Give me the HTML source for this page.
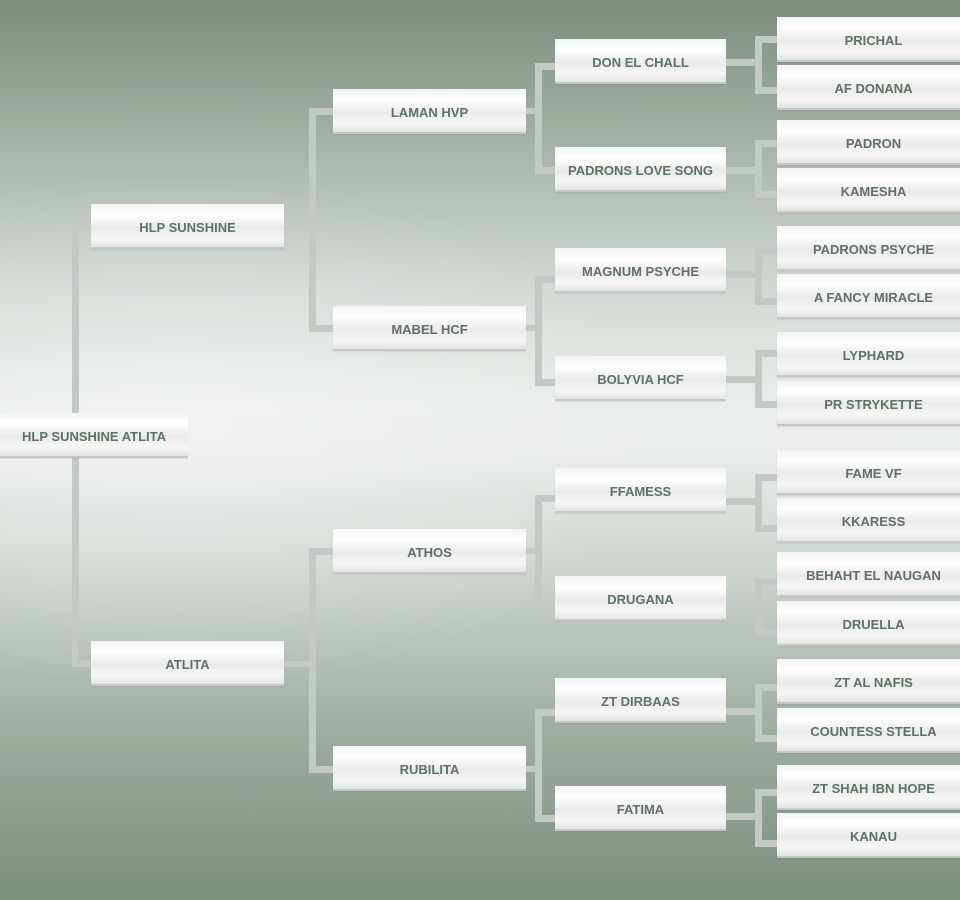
<!DOCTYPE html>
<html><head><meta charset="utf-8"><style>
html,body{margin:0;padding:0}
body{width:960px;height:900px;position:relative;overflow:hidden;font-family:"Liberation Sans",sans-serif;
background:linear-gradient(180deg,#7a8d7e 0%,#a3b0a5 15%,#cdd4ce 30%,#eaeeea 45%,#e9ece9 50%,#c9d1ca 65%,#a2afa4 80%,#7a8e7f 100%);}
.ov{position:absolute;left:0;top:0;width:960px;height:900px;background:radial-gradient(ellipse 480px 260px at 180px 430px,rgba(255,255,255,0.35),rgba(255,255,255,0) 100%);}
.b{position:absolute;height:45px;line-height:47px;text-align:center;font-weight:bold;font-size:13px;color:#5f7263;box-sizing:border-box;
background:linear-gradient(180deg,#f2f3f2 0%,#ffffff 25%,#eaeaea 55%,#f6f6f6 80%,#e3e4e3 100%);border-bottom:2px solid #c4c9c5;box-shadow:0 1px 1px rgba(0,0,0,0.08);}
.l{position:absolute;background:#c4c9c5;}
.g0{left:0;width:188px}.g1{left:91px;width:193px}.g2{left:333px;width:193px}.g3{left:555px;width:171px}.g4{left:777px;width:183px;padding-left:10px}
</style></head><body><div class="ov"></div>
<div class="l" style="left:72px;top:223px;width:7px;height:444px"></div>
<div class="l" style="left:72px;top:223px;width:20px;height:7px"></div>
<div class="l" style="left:72px;top:660px;width:20px;height:7px"></div>
<div class="l" style="left:284px;top:223px;width:28px;height:6px"></div>
<div class="l" style="left:309px;top:108px;width:7px;height:224px"></div>
<div class="l" style="left:309px;top:108px;width:24px;height:7px"></div>
<div class="l" style="left:309px;top:325px;width:24px;height:7px"></div>
<div class="l" style="left:284px;top:661px;width:28px;height:6px"></div>
<div class="l" style="left:309px;top:548px;width:7px;height:224px"></div>
<div class="l" style="left:309px;top:548px;width:24px;height:7px"></div>
<div class="l" style="left:309px;top:766px;width:24px;height:7px"></div>
<div class="l" style="left:526px;top:108px;width:12px;height:6px"></div>
<div class="l" style="left:535px;top:63px;width:7px;height:111px"></div>
<div class="l" style="left:535px;top:63px;width:20px;height:7px"></div>
<div class="l" style="left:535px;top:167px;width:20px;height:7px"></div>
<div class="l" style="left:526px;top:325px;width:12px;height:6px"></div>
<div class="l" style="left:535px;top:276px;width:7px;height:110px"></div>
<div class="l" style="left:535px;top:276px;width:20px;height:7px"></div>
<div class="l" style="left:535px;top:379px;width:20px;height:7px"></div>
<div class="l" style="left:526px;top:548px;width:12px;height:6px"></div>
<div class="l" style="left:535px;top:495px;width:7px;height:112px"></div>
<div class="l" style="left:535px;top:495px;width:20px;height:7px"></div>
<div class="l" style="left:535px;top:600px;width:20px;height:7px"></div>
<div class="l" style="left:526px;top:766px;width:12px;height:6px"></div>
<div class="l" style="left:535px;top:709px;width:7px;height:113px"></div>
<div class="l" style="left:535px;top:709px;width:20px;height:7px"></div>
<div class="l" style="left:535px;top:815px;width:20px;height:7px"></div>
<div class="l" style="left:726px;top:59px;width:34px;height:7px"></div>
<div class="l" style="left:755px;top:36px;width:7px;height:58px"></div>
<div class="l" style="left:755px;top:36px;width:22px;height:7px"></div>
<div class="l" style="left:755px;top:87px;width:22px;height:7px"></div>
<div class="l" style="left:726px;top:167px;width:34px;height:7px"></div>
<div class="l" style="left:755px;top:140px;width:7px;height:58px"></div>
<div class="l" style="left:755px;top:140px;width:22px;height:7px"></div>
<div class="l" style="left:755px;top:191px;width:22px;height:7px"></div>
<div class="l" style="left:726px;top:271px;width:34px;height:7px"></div>
<div class="l" style="left:755px;top:247px;width:7px;height:58px"></div>
<div class="l" style="left:755px;top:247px;width:22px;height:7px"></div>
<div class="l" style="left:755px;top:298px;width:22px;height:7px"></div>
<div class="l" style="left:726px;top:376px;width:34px;height:7px"></div>
<div class="l" style="left:755px;top:350px;width:7px;height:58px"></div>
<div class="l" style="left:755px;top:350px;width:22px;height:7px"></div>
<div class="l" style="left:755px;top:401px;width:22px;height:7px"></div>
<div class="l" style="left:726px;top:498px;width:34px;height:7px"></div>
<div class="l" style="left:755px;top:474px;width:7px;height:58px"></div>
<div class="l" style="left:755px;top:474px;width:22px;height:7px"></div>
<div class="l" style="left:755px;top:525px;width:22px;height:7px"></div>
<div class="l" style="left:726px;top:602px;width:34px;height:7px"></div>
<div class="l" style="left:755px;top:578px;width:7px;height:58px"></div>
<div class="l" style="left:755px;top:578px;width:22px;height:7px"></div>
<div class="l" style="left:755px;top:629px;width:22px;height:7px"></div>
<div class="l" style="left:726px;top:708px;width:34px;height:7px"></div>
<div class="l" style="left:755px;top:684px;width:7px;height:58px"></div>
<div class="l" style="left:755px;top:684px;width:22px;height:7px"></div>
<div class="l" style="left:755px;top:735px;width:22px;height:7px"></div>
<div class="l" style="left:726px;top:813px;width:34px;height:7px"></div>
<div class="l" style="left:755px;top:789px;width:7px;height:58px"></div>
<div class="l" style="left:755px;top:789px;width:22px;height:7px"></div>
<div class="l" style="left:755px;top:840px;width:22px;height:7px"></div>

<div class="b g0" style="top:413px">HLP SUNSHINE ATLITA</div>
<div class="b g1" style="top:204px">HLP SUNSHINE</div>
<div class="b g1" style="top:641px">ATLITA</div>
<div class="b g2" style="top:89px">LAMAN HVP</div>
<div class="b g2" style="top:306px">MABEL HCF</div>
<div class="b g2" style="top:529px">ATHOS</div>
<div class="b g2" style="top:746px">RUBILITA</div>
<div class="b g3" style="top:39px">DON EL CHALL</div>
<div class="b g3" style="top:147px">PADRONS LOVE SONG</div>
<div class="b g3" style="top:248px">MAGNUM PSYCHE</div>
<div class="b g3" style="top:356px">BOLYVIA HCF</div>
<div class="b g3" style="top:468px">FFAMESS</div>
<div class="b g3" style="top:576px">DRUGANA</div>
<div class="b g3" style="top:678px">ZT DIRBAAS</div>
<div class="b g3" style="top:786px">FATIMA</div>
<div class="b g4" style="top:17px">PRICHAL</div>
<div class="b g4" style="top:65px">AF DONANA</div>
<div class="b g4" style="top:120px">PADRON</div>
<div class="b g4" style="top:168px">KAMESHA</div>
<div class="b g4" style="top:226px">PADRONS PSYCHE</div>
<div class="b g4" style="top:274px">A FANCY MIRACLE</div>
<div class="b g4" style="top:332px">LYPHARD</div>
<div class="b g4" style="top:381px">PR STRYKETTE</div>
<div class="b g4" style="top:450px">FAME VF</div>
<div class="b g4" style="top:498px">KKARESS</div>
<div class="b g4" style="top:552px">BEHAHT EL NAUGAN</div>
<div class="b g4" style="top:601px">DRUELLA</div>
<div class="b g4" style="top:659px">ZT AL NAFIS</div>
<div class="b g4" style="top:708px">COUNTESS STELLA</div>
<div class="b g4" style="top:765px">ZT SHAH IBN HOPE</div>
<div class="b g4" style="top:813px">KANAU</div>
</body></html>
